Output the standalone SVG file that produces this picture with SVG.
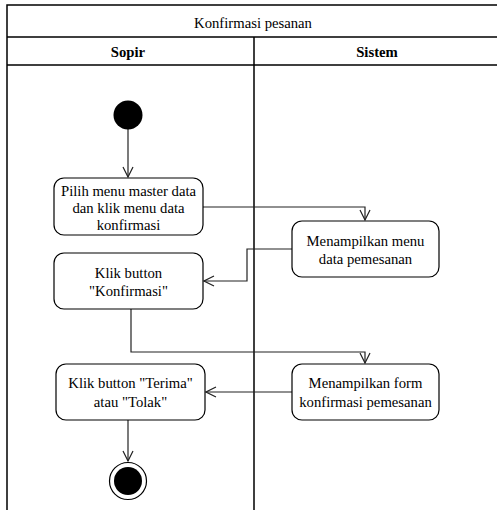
<svg xmlns="http://www.w3.org/2000/svg" width="497" height="510" viewBox="0 0 497 510">
<style>
.frame{fill:none;stroke:#000;stroke-width:1.5}
.box{fill:#fff;stroke:#000;stroke-width:1.2}
text{font-family:'Liberation Serif','Times New Roman','DejaVu Serif',serif;font-size:14.7px;fill:#000;text-anchor:middle}
.b{font-weight:bold}
.c{fill:none;stroke:#222;stroke-width:1.2}
</style>
<defs>
<marker id="arr" viewBox="0 0 12 12" refX="11" refY="6" markerWidth="12" markerHeight="12" markerUnits="userSpaceOnUse" orient="auto">
<path d="M1,1 L11,6 L1,11" fill="none" stroke="#222" stroke-width="1.2"/>
</marker>
</defs>
<rect x="0" y="0" width="497" height="510" fill="#fff"/>
<g id="pool">
<path class="frame" d="M7,510 V5 H500 M7,37 H500 M7,65 H500 M254,37 V510"/>
<text x="253" y="28">Konfirmasi pesanan</text>
<text class="b" x="128" y="57">Sopir</text>
<text class="b" x="377" y="57">Sistem</text>
</g>
<g id="connectors">
<path class="c" d="M128,129 V177" marker-end="url(#arr)"/>
<path class="c" d="M203,207 H365 V220" marker-end="url(#arr)"/>
<path class="c" d="M292,249 H247 V281 H204" marker-end="url(#arr)"/>
<path class="c" d="M131,309 V352 H365 V363" marker-end="url(#arr)"/>
<path class="c" d="M292,392 H206" marker-end="url(#arr)"/>
<path class="c" d="M128,420 V461" marker-end="url(#arr)"/>
</g>
<g id="start"><circle cx="128" cy="115" r="14.5" fill="#000"/></g>
<g id="n1">
<rect class="box" x="54" y="178" width="149" height="57" rx="10"/>
<text x="128.5" y="196">Pilih menu master data</text>
<text x="128.5" y="213">dan klik menu data</text>
<text x="128.5" y="230">konfirmasi</text>
</g>
<g id="n2">
<rect class="box" x="292" y="221" width="147" height="56" rx="10"/>
<text x="365.5" y="246">Menampilkan menu</text>
<text x="365.5" y="264">data pemesanan</text>
</g>
<g id="n3">
<rect class="box" x="54" y="253" width="149" height="56" rx="10"/>
<text x="128.5" y="278">Klik button</text>
<text x="128.5" y="296">"Konfirmasi"</text>
</g>
<g id="n4">
<rect class="box" x="292" y="364" width="147" height="56" rx="10"/>
<text x="365.5" y="388">Menampilkan form</text>
<text x="365.5" y="407">konfirmasi pemesanan</text>
</g>
<g id="n5">
<rect class="box" x="56" y="364" width="149" height="56" rx="10"/>
<text x="130.5" y="388">Klik button "Terima"</text>
<text x="130.5" y="407">atau "Tolak"</text>
</g>
<g id="end">
<circle cx="128" cy="481" r="18.5" fill="#fff" stroke="#000" stroke-width="1.2"/>
<circle cx="128" cy="481" r="14" fill="#000"/>
</g>
</svg>
